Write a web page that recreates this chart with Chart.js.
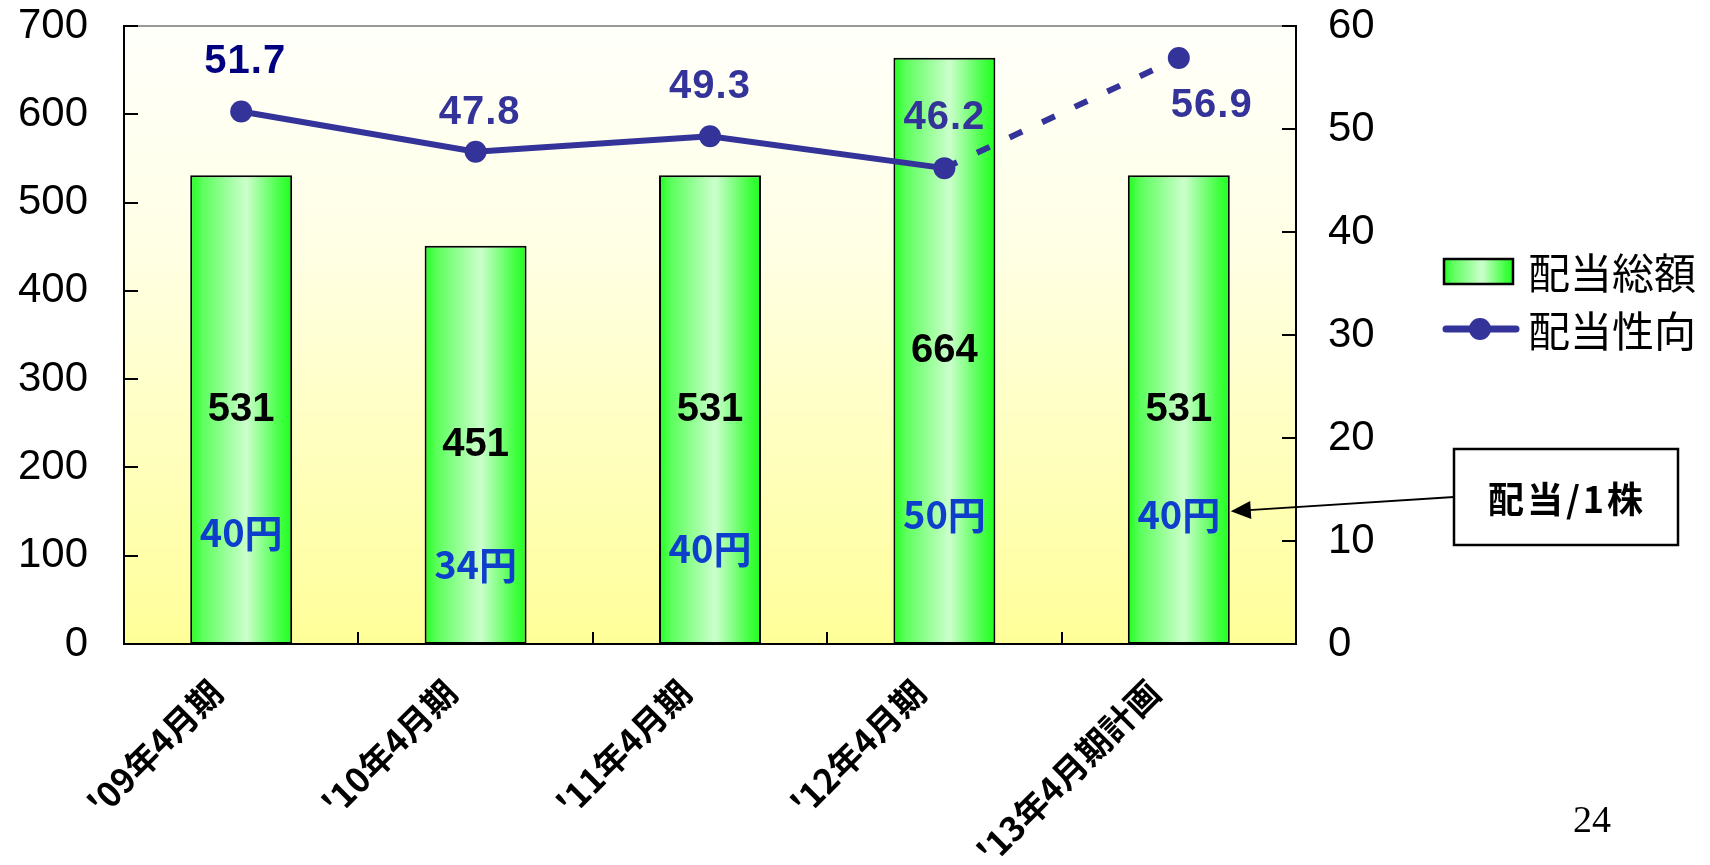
<!DOCTYPE html>
<html>
<head>
<meta charset="utf-8">
<script src="https://cdn.jsdelivr.net/npm/chart.js@4.4.1/dist/chart.umd.min.js"></script>
<style>
  html, body { margin: 0; padding: 0; background: #ffffff; }
  #wrap { width: 1710px; height: 865px; position: relative; }
</style>
</head>
<body>
<div id="wrap"><canvas id="c" width="1710" height="865"></canvas></div>
<script>
// ---- data ----
const categories = ["'09年4月期", "'10年4月期", "'11年4月期", "'12年4月期", "'13年4月期計画"];
const totalDividend = [531, 451, 531, 664, 531];     // 配当総額 (left axis)
const payoutRatio = [51.7, 47.8, 49.3, 46.2, 56.9];  // 配当性向 (right axis)
const perShare = [40, 34, 40, 50, 40];               // 配当/1株 (円)
const planned = [false, false, false, false, true];  // plan value -> dashed segment
const leftTicks = [0, 100, 200, 300, 400, 500, 600, 700];
const rightTicks = [0, 10, 20, 30, 40, 50, 60];
const seriesNames = ['配当総額', '配当性向'];

// ---- placement / style (not data) ----
const perShareLabelAt = [126, 90, 108, 147, 147];    // left-axis value where 円 label sits
const ratioLabelOffset = [[4, -50], [4, -39], [0, -49], [0, -50], [33, 48]];
const ratioLabelColor = ['#000080', '#333399', '#333399', '#333399', '#333399'];
const BAR_PCT = 0.435;
const LINE_COLOR = '#333399';

function barGradient(ctx, x0, x1) {
  const g = ctx.createLinearGradient(x0, 0, x1, 0);
  g.addColorStop(0, '#1eff1e');
  g.addColorStop(0.12, '#5cff5c');
  g.addColorStop(0.55, '#ccffcc');
  g.addColorStop(0.88, '#44ff44');
  g.addColorStop(1, '#1eff1e');
  return g;
}

const bgPlugin = {
  id: 'bg',
  beforeDraw(chart) {
    const { ctx, chartArea: a } = chart;
    const g = ctx.createLinearGradient(0, a.top, 0, a.bottom);
    g.addColorStop(0, '#fffffb');
    g.addColorStop(0.35, '#ffffe6');
    g.addColorStop(1, '#ffff99');
    ctx.save();
    ctx.fillStyle = g;
    ctx.fillRect(a.left, a.top, a.right - a.left, a.bottom - a.top);
    ctx.strokeStyle = '#999999';
    ctx.lineWidth = 2;
    ctx.beginPath();
    ctx.moveTo(a.left, a.top);
    ctx.lineTo(a.right, a.top);
    ctx.stroke();
    ctx.restore();
  }
};

const tickPlugin = {
  id: 'innerTicks',
  afterDatasetsDraw(chart) {
    const { ctx, chartArea: a, scales } = chart;
    ctx.save();
    ctx.strokeStyle = '#000';
    ctx.lineWidth = 2;
    ctx.beginPath();
    leftTicks.forEach(v => {
      const py = Math.round(scales.y.getPixelForValue(v));
      ctx.moveTo(a.left, py); ctx.lineTo(a.left + 14, py);
    });
    rightTicks.forEach(v => {
      const py = Math.round(scales.y1.getPixelForValue(v));
      ctx.moveTo(a.right - 14, py); ctx.lineTo(a.right, py);
    });
    for (let i = 1; i < categories.length; i++) {
      const bx = Math.round((scales.x.getPixelForValue(i - 1) + scales.x.getPixelForValue(i)) / 2);
      ctx.moveTo(bx, a.bottom); ctx.lineTo(bx, a.bottom - 12);
    }
    ctx.stroke();
    ctx.restore();
  }
};

const labelPlugin = {
  id: 'labels',
  afterDatasetsDraw(chart) {
    const { ctx, scales } = chart;
    const barMeta = chart.getDatasetMeta(0);
    const lineMeta = chart.getDatasetMeta(1);
    ctx.save();
    ctx.textAlign = 'center';
    ctx.textBaseline = 'middle';
    // bar totals
    ctx.font = 'bold 40px "Liberation Sans", Arial, sans-serif';
    ctx.fillStyle = '#000';
    barMeta.data.forEach((el, i) => {
      ctx.fillText(String(totalDividend[i]), el.x, (el.y + el.base) / 2);
    });
    // per-share labels
    ctx.font = 'bold 38px "Noto Sans CJK JP", sans-serif';
    ctx.fillStyle = '#0d3fcc';
    barMeta.data.forEach((el, i) => {
      ctx.fillText(perShare[i] + '円', el.x, scales.y.getPixelForValue(perShareLabelAt[i]));
    });
    // payout ratio labels
    ctx.font = 'bold 40px "Liberation Sans", Arial, sans-serif';
    try { ctx.letterSpacing = '1px'; } catch (e) {}
    lineMeta.data.forEach((el, i) => {
      ctx.fillStyle = ratioLabelColor[i];
      ctx.fillText(payoutRatio[i].toFixed(1), el.x + ratioLabelOffset[i][0], el.y + ratioLabelOffset[i][1]);
    });
    try { ctx.letterSpacing = '0px'; } catch (e) {}
    ctx.restore();
  }
};

const extrasPlugin = {
  id: 'extras',
  afterDraw(chart) {
    const { ctx, scales } = chart;
    ctx.save();
    // legend
    ctx.fillStyle = barGradient(ctx, 1444, 1513);
    ctx.fillRect(1444, 259, 69, 25);
    ctx.strokeStyle = '#000';
    ctx.lineWidth = 2.5;
    ctx.strokeRect(1444, 259, 69, 25);
    ctx.strokeStyle = LINE_COLOR;
    ctx.lineWidth = 7;
    ctx.lineCap = 'round';
    ctx.beginPath();
    ctx.moveTo(1446, 329); ctx.lineTo(1516, 329);
    ctx.stroke();
    ctx.fillStyle = LINE_COLOR;
    ctx.beginPath();
    ctx.arc(1480, 329, 11, 0, Math.PI * 2);
    ctx.fill();
    ctx.fillStyle = '#000';
    ctx.font = '42px "Noto Sans CJK JP", sans-serif';
    ctx.textAlign = 'left';
    ctx.textBaseline = 'middle';
    ctx.fillText(seriesNames[0], 1528, 273);
    ctx.fillText(seriesNames[1], 1528, 331);

    // annotation box + arrow
    ctx.lineCap = 'butt';
    ctx.fillStyle = '#fff';
    ctx.fillRect(1454, 449, 224, 96);
    ctx.strokeStyle = '#000';
    ctx.lineWidth = 2.5;
    ctx.strokeRect(1454, 449, 224, 96);
    ctx.fillStyle = '#000';
    ctx.font = 'bold 36px "Noto Sans CJK JP", sans-serif';
    ctx.textAlign = 'center';
    try { ctx.letterSpacing = '3px'; } catch (e) {}
    ctx.fillText('配当/1株', 1567, 499);
    try { ctx.letterSpacing = '0px'; } catch (e) {}

    const lastBar = chart.getDatasetMeta(0).data[categories.length - 1];
    const tipX = lastBar.x + lastBar.width / 2 + 1;
    const tipY = scales.y.getPixelForValue(perShareLabelAt[categories.length - 1]) - 3;
    const sx = 1454, sy = 497;
    const ang = Math.atan2(tipY - sy, tipX - sx);
    ctx.lineWidth = 1.8;
    ctx.beginPath();
    ctx.moveTo(sx, sy);
    ctx.lineTo(tipX - Math.cos(ang) * 18, tipY - Math.sin(ang) * 18);
    ctx.stroke();
    ctx.beginPath();
    ctx.moveTo(tipX, tipY);
    ctx.lineTo(tipX - Math.cos(ang) * 20 + Math.sin(ang) * 9, tipY - Math.sin(ang) * 20 - Math.cos(ang) * 9);
    ctx.lineTo(tipX - Math.cos(ang) * 20 - Math.sin(ang) * 9, tipY - Math.sin(ang) * 20 + Math.cos(ang) * 9);
    ctx.closePath();
    ctx.fill();

    // page number
    ctx.font = '38px "Liberation Serif", "Times New Roman", serif';
    ctx.textAlign = 'left';
    ctx.textBaseline = 'alphabetic';
    ctx.fillText('24', 1573, 832);
    ctx.restore();
  }
};

function noVertPadding(s) { s.paddingTop = 0; s.paddingBottom = 0; }

new Chart(document.getElementById('c'), {
  data: {
    labels: categories,
    datasets: [
      {
        type: 'bar',
        label: seriesNames[0],
        data: totalDividend,
        yAxisID: 'y',
        order: 1,
        barPercentage: BAR_PCT,
        categoryPercentage: 1,
        borderColor: '#000',
        borderWidth: 2,
        borderSkipped: false,
        backgroundColor: (c) => {
          const chart = c.chart;
          const xs = chart.scales && chart.scales.x;
          if (!xs || c.dataIndex === undefined || !chart.chartArea) return '#55ff55';
          const cx = xs.getPixelForValue(c.dataIndex);
          const half = xs.width / categories.length * BAR_PCT / 2;
          return barGradient(chart.ctx, cx - half, cx + half);
        }
      },
      {
        type: 'line',
        label: seriesNames[1],
        data: payoutRatio,
        yAxisID: 'y1',
        order: 0,
        borderColor: LINE_COLOR,
        borderWidth: 6,
        tension: 0,
        pointRadius: 11,
        pointHoverRadius: 11,
        pointBackgroundColor: LINE_COLOR,
        pointBorderColor: LINE_COLOR,
        pointBorderWidth: 0,
        segment: {
          borderDash: (s) => planned[s.p1DataIndex] ? [14, 22] : undefined
        }
      }
    ]
  },
  options: {
    responsive: false,
    devicePixelRatio: 1,
    animation: false,
    events: [],
    layout: { padding: { top: 26, left: 0, right: 0, bottom: 0 } },
    plugins: { legend: { display: false }, tooltip: { enabled: false } },
    scales: {
      x: {
        type: 'category',
        offset: true,
        grid: { display: false, drawTicks: false },
        border: { display: true, color: '#000', width: 2 },
        ticks: {
          autoSkip: false,
          maxRotation: 45,
          minRotation: 45,
          padding: 28,
          labelOffset: -25,
          color: '#000',
          font: { family: '"Noto Sans CJK JP", sans-serif', size: 34, weight: 'bold' }
        },
        afterFit: (s) => { s.height = 221; }
      },
      y: {
        position: 'left',
        min: 0, max: 700,
        grid: { display: false, drawTicks: false },
        border: { display: true, color: '#000', width: 2 },
        ticks: {
          stepSize: 100,
          padding: 36,
          color: '#000',
          font: { family: '"Liberation Sans", Arial, sans-serif', size: 42 }
        },
        afterFit: (s) => { s.width = 124; noVertPadding(s); }
      },
      y1: {
        position: 'right',
        min: 0, max: 60,
        grid: { display: false, drawTicks: false },
        border: { display: true, color: '#000', width: 2 },
        ticks: {
          stepSize: 10,
          padding: 32,
          color: '#000',
          font: { family: '"Liberation Sans", Arial, sans-serif', size: 42 }
        },
        afterFit: (s) => { s.width = 414; noVertPadding(s); }
      }
    }
  },
  plugins: [bgPlugin, tickPlugin, labelPlugin, extrasPlugin]
});
</script>
</body>
</html>
